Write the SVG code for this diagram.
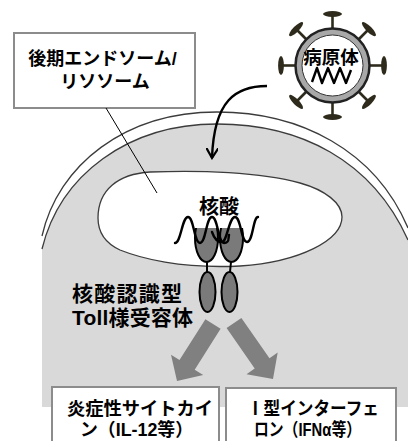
<svg xmlns="http://www.w3.org/2000/svg" width="408" height="441" viewBox="0 0 408 441">
  <style>
    .t { font-family: "Liberation Sans", "Noto Sans CJK JP", sans-serif; font-weight: bold; fill: #000; }
    .mem { fill: none; stroke: #3c3c3c; stroke-width: 1.3; }
    .box { fill: #fff; stroke: #8c8c8c; stroke-width: 2; }
    .rec { fill: #7a7a7a; stroke: #000; stroke-width: 2; }
    .wave { fill: none; stroke: #000; stroke-width: 2.4; stroke-linecap: round; stroke-linejoin: round; }
    .big { fill: #808080; }
  </style>
  <defs>
    <clipPath id="recClip">
      <rect x="180" y="228" width="80" height="60"/>
    </clipPath>
    <g id="spike">
      <line x1="332.5" y1="28" x2="332.5" y2="15" stroke="#2f2b1c" stroke-width="2.6"/>
      <ellipse cx="332.5" cy="14" rx="9.5" ry="2.9" fill="#2f2b1c"/>
    </g>
    <marker id="chev" viewBox="0 0 12 12" refX="10" refY="6" markerWidth="12" markerHeight="12" markerUnits="userSpaceOnUse" orient="auto">
      <path d="M0,0 L10,6 L0,12" fill="none" stroke="#000" stroke-width="2.2"/>
    </marker>
  </defs>

  <rect width="408" height="441" fill="#fff"/>

  <!-- cell: cytoplasm and plasma membrane -->
  <g id="cell">
    <path d="M42,249 C60,175 128,124 217,124 C300,124 372,160 408,240 L408,407 L42,407 Z" fill="#d9d9d9"/>
    <path class="mem" d="M42,249 C60,175 128,124 217,124 C300,124 372,160 408,240"/>
    <path class="mem" d="M42,236 C58,165 125,112 217,112 C300,112 375,150 408,228"/>
  </g>

  <!-- late endosome / lysosome lumen -->
  <g id="endosome">
    <path d="M98,218 C98,190 118,174 150,172 C200,170 260,172 300,183 C325,190 342,203 342,217 C342,240 300,262 240,266 C180,269 140,258 120,250 C105,243 98,232 98,218 Z" fill="#fff" stroke="#3c3c3c" stroke-width="1.3"/>
  </g>

  <!-- label box with leader -->
  <g id="label-endosome">
    <rect class="box" x="14" y="33" width="181" height="75"/>
    <text class="t" font-size="18" text-anchor="middle">
      <tspan x="105" y="65">後期エンドソーム/</tspan>
      <tspan x="105" y="88">リソソーム</tspan>
    </text>
  </g>

  <!-- pathogen -->
  <g id="pathogen">
    <use href="#spike"/>
    <use href="#spike" transform="rotate(45 332.5 65.5)"/>
    <use href="#spike" transform="rotate(90 332.5 65.5)"/>
    <use href="#spike" transform="rotate(135 332.5 65.5)"/>
    <use href="#spike" transform="rotate(180 332.5 65.5)"/>
    <use href="#spike" transform="rotate(225 332.5 65.5)"/>
    <use href="#spike" transform="rotate(270 332.5 65.5)"/>
    <use href="#spike" transform="rotate(315 332.5 65.5)"/>
    <circle cx="332.5" cy="65.5" r="37" fill="#a8a8a8" stroke="#222" stroke-width="2.5"/>
    <circle cx="332.5" cy="65.5" r="30.5" fill="#fff" stroke="#333" stroke-width="1"/>
    <text class="t" x="331" y="64" font-size="18.5" text-anchor="middle">病原体</text>
    <path d="M312,82 L317,68 L322,83 L328,68 L334,83 L340,68 L346,83 L351,70" fill="none" stroke="#000" stroke-width="2.4" stroke-linejoin="round"/>
  </g>

  <!-- nucleic acid sensing TLR dimer -->
  <g id="tlr">
    <g clip-path="url(#recClip)">
      <ellipse class="rec" cx="206.5" cy="238" rx="11.5" ry="24"/>
      <ellipse class="rec" cx="231.5" cy="238" rx="11.5" ry="24"/>
    </g>
    <line x1="207" y1="262" x2="207" y2="272" stroke="#000" stroke-width="2"/>
    <line x1="231" y1="262" x2="230" y2="272" stroke="#000" stroke-width="2"/>
    <ellipse class="rec" cx="207.5" cy="292" rx="8" ry="20"/>
    <ellipse class="rec" cx="229.5" cy="292" rx="8" ry="20"/>
  </g>

  <!-- nucleic acids -->
  <g id="nucleic-acid">
    <path class="wave" d="M175,243 C181,243 182,217 188,217 S194,243 200,243 S206,217 212,217 S218,243 224,243 S228,238 229,235"/>
    <path class="wave" d="M212,232 C214,238 217,242 222,242 S229,217 235,217 S241,242 247,242 S253,217 258,217"/>
    <text class="t" x="219" y="214" font-size="20" text-anchor="middle">核酸</text>
  </g>

  <g id="label-tlr">
    <text class="t" font-size="21">
      <tspan x="72" y="301" textLength="110" lengthAdjust="spacing">核酸認識型</tspan>
      <tspan x="72" y="325" textLength="121" lengthAdjust="spacing">Toll様受容体</tspan>
    </text>
  </g>

  <!-- connectors -->
  <g id="connectors">
    <line x1="106" y1="108" x2="157" y2="193" stroke="#000" stroke-width="1"/>
    <path d="M267,86 C236,86 214,100 212,158" fill="none" stroke="#000" stroke-width="2.4" marker-end="url(#chev)"/>
    <polygon class="big" points="205.4,319.2 220.6,328.8 194.7,369.7 203.2,375 177,381 171,354.8 179.5,360.1"/>
    <polygon class="big" points="226.6,328.1 241.4,317.9 269.5,358.3 277.7,352.5 273,379 246.5,374.3 254.7,368.5"/>
  </g>

  <!-- outputs -->
  <g id="cytokine">
    <rect class="box" x="52" y="387" width="167" height="70"/>
    <text class="t" font-size="18">
      <tspan x="67" y="415" textLength="146" lengthAdjust="spacingAndGlyphs">炎症性サイトカイ</tspan>
      <tspan x="80" y="436" textLength="113" lengthAdjust="spacingAndGlyphs">ン（IL-12等）</tspan>
    </text>
  </g>
  <g id="interferon">
    <rect class="box" x="226" y="388" width="170" height="70"/>
    <text class="t" font-size="18">
      <tspan x="247" y="415" textLength="132" lengthAdjust="spacingAndGlyphs">Ⅰ型インターフェ</tspan>
      <tspan x="254" y="436" textLength="107" lengthAdjust="spacingAndGlyphs">ロン（IFNα等）</tspan>
    </text>
  </g>
</svg>
